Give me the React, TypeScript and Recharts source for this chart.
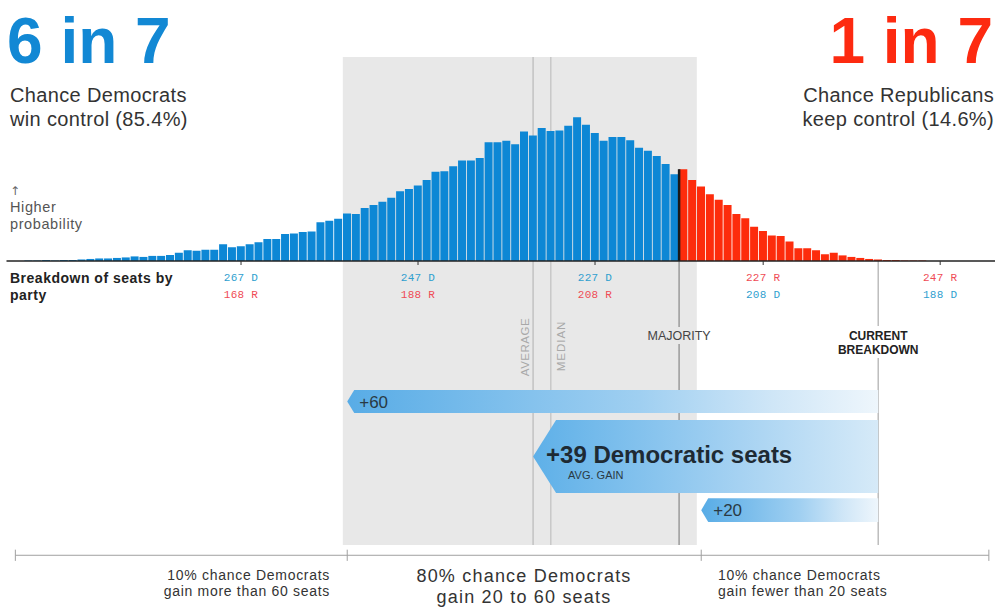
import React from 'react';
import { BarChart, Bar, XAxis, YAxis, Cell, ReferenceArea, ReferenceLine } from 'recharts';

// ---- data -----------------------------------------------------------
// Democratic seats won (x categories, left = more Democratic seats)
const seats = [
  293, 292, 291, 290, 289, 288, 287, 286, 285, 284,
  283, 282, 281, 280, 279, 278, 277, 276, 275, 274,
  273, 272, 271, 270, 269, 268, 267, 266, 265, 264,
  263, 262, 261, 260, 259, 258, 257, 256, 255, 254,
  253, 252, 251, 250, 249, 248, 247, 246, 245, 244,
  243, 242, 241, 240, 239, 238, 237, 236, 235, 234,
  233, 232, 231, 230, 229, 228, 227, 226, 225, 224,
  223, 222, 221, 220, 219, 218, 217, 216, 215, 214,
  213, 212, 211, 210, 209, 208, 207, 206, 205, 204,
  203, 202, 201, 200, 199, 198, 197, 196, 195, 194,
  193, 192, 191, 190, 189, 188, 187, 186, 185, 184,
  183, 182,
];
// probability (%) of each outcome
const probability = [
  0, 0, 0.01, 0.01, 0.02, 0.01, 0.02, 0.02, 0.03, 0.04,
  0.05, 0.05, 0.06, 0.07, 0.09, 0.08, 0.10, 0.10, 0.12, 0.16,
  0.21, 0.20, 0.22, 0.22, 0.33, 0.27, 0.29, 0.33, 0.37, 0.43,
  0.43, 0.53, 0.54, 0.57, 0.58, 0.76, 0.79, 0.83, 0.93, 0.92,
  1.04, 1.10, 1.16, 1.24, 1.37, 1.41, 1.48, 1.59, 1.75, 1.76,
  1.86, 1.97, 1.97, 2.02, 2.33, 2.33, 2.36, 2.29, 2.54, 2.46,
  2.61, 2.55, 2.56, 2.65, 2.82, 2.67, 2.51, 2.36, 2.43, 2.43,
  2.37, 2.22, 2.16, 2.06, 1.90, 1.70, 1.80, 1.59, 1.46, 1.31,
  1.20, 1.10, 0.92, 0.84, 0.67, 0.59, 0.50, 0.49, 0.38, 0.25,
  0.25, 0.21, 0.13, 0.16, 0.11, 0.08, 0.06, 0.04, 0.03, 0.02,
  0.02, 0.01, 0.01, 0.01, 0, 0, 0, 0, 0, 0,
  0, 0,
];
const tickSeats = [267, 247, 227, 208, 188];

const TOTAL_SEATS = 435;
const MAJORITY_SEATS = 218;
const CURRENT_DEM_SEATS = 195;
const AVERAGE_DEM_SEATS = 234;
const MEDIAN_DEM_SEATS = 232;
const GAIN_HIGH_SEATS = 255; // +60
const GAIN_LOW_SEATS = 215; // +20

const gainHighLabel = '+60';
const gainAvgLabel = '+39 Democratic seats';
const gainLowLabel = '+20';

// ---- layout / style ---------------------------------------------------
const BLUE = '#0d87d5';
const RED = '#fd2c0c';
const BLUE_TXT = '#2f9fcf';
const RED_TXT = '#ef4b55';
const SANS = "'Liberation Sans', Arial, sans-serif";
const MONO = "'Liberation Mono', 'DejaVu Sans Mono', monospace";

const CHART_W = 1000;
const CHART_H = 608;
const MARGIN = { top: 57, right: 2.3, bottom: 317, left: 6.5 };
const BAND = (CHART_W - MARGIN.left - MARGIN.right) / seats.length;

const Y_MAX = 4;
const Y_BOTTOM = -5.57; // bottom of shaded band
const Y_AXIS2 = -5.77; // bottom scale line
const ROW_HIGH: [number, number] = [-2.53, -2.98];
const ROW_AVG: [number, number] = [-3.12, -4.55];
const ROW_LOW: [number, number] = [-4.65, -5.12];

const data = seats.map((s, i) => ({ seat: s, prob: probability[i] }));
const barAtMajorityEdge = probability[seats.indexOf(MAJORITY_SEATS - 1)];

const SeatTick = (props: any) => {
  const { x, y, payload } = props;
  const d = payload.value as number;
  const r = TOTAL_SEATS - d;
  const dem = d >= MAJORITY_SEATS;
  const first = dem ? `${d} D` : `${r} R`;
  const second = dem ? `${r} R` : `${d} D`;
  const common = { x, textAnchor: 'middle' as const, fontSize: 11, fontFamily: MONO, letterSpacing: 0.3 };
  return (
    <g>
      <text {...common} y={y + 14} fill={dem ? BLUE_TXT : RED_TXT}>{first}</text>
      <text {...common} y={y + 31} fill={dem ? RED_TXT : BLUE_TXT}>{second}</text>
    </g>
  );
};

const GainArrow = (props: any) => {
  const { x, y, width, height, label, sub, big } = props;
  const x0 = x + BAND / 2;
  const x1 = x + width - BAND / 2;
  const depth = big ? 23 : 7;
  const pts = `${x0},${y + height / 2} ${x0 + depth},${y} ${x1},${y} ${x1},${y + height} ${x0 + depth},${y + height}`;
  return (
    <g>
      <polygon points={pts} fill={big ? 'url(#gainGradBig)' : 'url(#gainGrad)'} />
      {big ? (
        <>
          <text x={x0 + 13} y={y + 43} fontSize={24} fontWeight={700} fontFamily={SANS} fill="#1e2a33">{label}</text>
          <text x={x0 + 35} y={y + 59} fontSize={11} fontFamily={SANS} fill="#2a3a44">{sub}</text>
        </>
      ) : (
        <text x={x0 + 12} y={y + height / 2 + 6} fontSize={17} fontFamily={SANS} fill="#2a3a44">{label}</text>
      )}
    </g>
  );
};

const avgLabel = (p: any) => {
  const x = p.viewBox.x - 4;
  return (
    <text x={x} y={347} transform={`rotate(-90 ${x} 347)`} textAnchor="middle" fontSize={11.5} fontFamily={SANS} fill="#a8a8a8" letterSpacing={0.5}>AVERAGE</text>
  );
};
const medLabel = (p: any) => {
  const x = p.viewBox.x + 14;
  return (
    <text x={x} y={346} transform={`rotate(-90 ${x} 346)`} textAnchor="middle" fontSize={11.5} fontFamily={SANS} fill="#a8a8a8" letterSpacing={1}>MEDIAN</text>
  );
};
const majLabel = (p: any) => {
  const x = p.viewBox.x;
  return (
    <g>
      <rect x={x - 3} y={327} width={6} height={17} fill="#e8e8e8" />
      <text x={x} y={340} textAnchor="middle" fontSize={12.5} fontFamily={SANS} fill="#444">MAJORITY</text>
    </g>
  );
};
const curLabel = (p: any) => {
  const x = p.viewBox.x;
  return (
    <g>
      <rect x={x - 3} y={326} width={6} height={32} fill="#fff" />
      <text x={x} y={340} textAnchor="middle" fontSize={12} fontWeight={700} fontFamily={SANS} fill="#222">CURRENT</text>
      <text x={x} y={354} textAnchor="middle" fontSize={12} fontWeight={700} fontFamily={SANS} fill="#222">BREAKDOWN</text>
    </g>
  );
};

const Overlay = () => (
  <svg width={995} height={608} style={{ position: 'absolute', left: 0, top: 0, pointerEvents: 'none' }}>
    <text x={7} y={63} fontSize={64} fontWeight={700} fontFamily={SANS} fill="#1288d4">6 in 7</text>
    <text x={993} y={63} textAnchor="end" fontSize={64} fontWeight={700} fontFamily={SANS} fill="#fd2a10">1 in 7</text>
    <text x={10} y={102} fontSize={20} fontFamily={SANS} fill="#333" letterSpacing={0.35}>Chance Democrats</text>
    <text x={10} y={126} fontSize={20} fontFamily={SANS} fill="#333" letterSpacing={0.35}>win control (85.4%)</text>
    <text x={994} y={102} textAnchor="end" fontSize={20} fontFamily={SANS} fill="#333" letterSpacing={0.35}>Chance Republicans</text>
    <text x={994} y={126} textAnchor="end" fontSize={20} fontFamily={SANS} fill="#333" letterSpacing={0.35}>keep control (14.6%)</text>
    <text x={10} y={195} fontSize={12} fontFamily="'DejaVu Sans', sans-serif" fill="#666">↑</text>
    <text x={10} y={212} fontSize={14.5} fontFamily={SANS} fill="#555" letterSpacing={0.6}>Higher</text>
    <text x={10} y={229} fontSize={14.5} fontFamily={SANS} fill="#555" letterSpacing={0.6}>probability</text>
    <text x={10} y={283} fontSize={14} fontWeight={700} fontFamily={SANS} fill="#222" letterSpacing={0.5}>Breakdown of seats by</text>
    <text x={10} y={299.5} fontSize={14} fontWeight={700} fontFamily={SANS} fill="#222" letterSpacing={0.5}>party</text>
    <text x={330} y={580} textAnchor="end" fontSize={14} fontFamily={SANS} fill="#333" letterSpacing={0.7}>10% chance Democrats</text>
    <text x={330} y={596} textAnchor="end" fontSize={14} fontFamily={SANS} fill="#333" letterSpacing={0.7}>gain more than 60 seats</text>
    <text x={524} y={582} textAnchor="middle" fontSize={18} fontFamily={SANS} fill="#333" letterSpacing={1.2}>80% chance Democrats</text>
    <text x={524} y={602.5} textAnchor="middle" fontSize={18} fontFamily={SANS} fill="#333" letterSpacing={1.2}>gain 20 to 60 seats</text>
    <text x={718} y={580} fontSize={14} fontFamily={SANS} fill="#333" letterSpacing={0.7}>10% chance Democrats</text>
    <text x={718} y={596} fontSize={14} fontFamily={SANS} fill="#333" letterSpacing={0.7}>gain fewer than 20 seats</text>
  </svg>
);

export default function App() {
  return (
    <div style={{ position: 'absolute', left: 0, top: 0, width: 995, height: 608, overflow: 'hidden', background: '#fff' }}>
      <div style={{ position: 'absolute', left: 0, top: 0 }}>
        <BarChart width={CHART_W} height={CHART_H} data={data} margin={MARGIN} barCategoryGap={0.2}>
          <defs>
            <linearGradient id="gainGrad" x1="0" y1="0" x2="1" y2="0">
              <stop offset="0" stopColor="#58ace6" />
              <stop offset="0.55" stopColor="#9fcff1" />
              <stop offset="0.8" stopColor="#cfe6f7" />
              <stop offset="1" stopColor="#eef6fc" />
            </linearGradient>
            <linearGradient id="gainGradBig" x1="0" y1="0" x2="1" y2="0">
              <stop offset="0" stopColor="#5eb0e8" />
              <stop offset="0.6" stopColor="#a6d2f2" />
              <stop offset="1" stopColor="#d6eaf8" />
            </linearGradient>
          </defs>
          <XAxis
            dataKey="seat"
            ticks={tickSeats}
            interval={0}
            tickSize={4}
            tickLine={{ stroke: '#333' }}
            axisLine={{ stroke: '#222', strokeWidth: 1.5 }}
            tick={(p: any) => <SeatTick {...p} />}
            height={30}
          />
          <YAxis hide type="number" domain={[0, Y_MAX]} allowDataOverflow />
          <ReferenceArea
            x1={GAIN_HIGH_SEATS}
            x2={MAJORITY_SEATS - 2}
            y1={Y_BOTTOM}
            y2={Y_MAX}
            fill="#e8e8e8"
            fillOpacity={1}
            stroke="none"
            ifOverflow="visible"
            zIndex={5}
          />
          <ReferenceLine
            segment={[{ x: AVERAGE_DEM_SEATS, y: Y_MAX }, { x: AVERAGE_DEM_SEATS, y: Y_BOTTOM }]}
            stroke="#c2c2c2"
            strokeWidth={1.5}
            ifOverflow="visible"
            label={avgLabel}
            zIndex={20}
          />
          <ReferenceLine
            segment={[{ x: MEDIAN_DEM_SEATS, y: Y_MAX }, { x: MEDIAN_DEM_SEATS, y: Y_BOTTOM }]}
            stroke="#c8c8c8"
            strokeWidth={1.5}
            ifOverflow="visible"
            label={medLabel}
            zIndex={20}
          />
          <ReferenceLine
            segment={[{ x: MAJORITY_SEATS, y: 0 }, { x: MAJORITY_SEATS, y: Y_BOTTOM }]}
            position="end"
            stroke="#9a9a9a"
            strokeWidth={1.5}
            ifOverflow="visible"
            label={majLabel}
            zIndex={20}
          />
          <ReferenceLine
            segment={[{ x: CURRENT_DEM_SEATS, y: 0 }, { x: CURRENT_DEM_SEATS, y: Y_BOTTOM }]}
            stroke="#bdbdbd"
            strokeWidth={1.5}
            ifOverflow="visible"
            label={curLabel}
            zIndex={20}
          />
          <Bar dataKey="prob" isAnimationActive={false}>
            {data.map((d) => (
              <Cell key={d.seat} fill={d.seat >= MAJORITY_SEATS ? BLUE : RED} />
            ))}
          </Bar>
          <ReferenceLine
            segment={[{ x: MAJORITY_SEATS, y: 0 }, { x: MAJORITY_SEATS, y: barAtMajorityEdge }]}
            position="end"
            stroke="#1a1a1a"
            strokeWidth={2.5}
            ifOverflow="visible"
            zIndex={450}
          />
          <ReferenceArea
            x1={GAIN_HIGH_SEATS}
            x2={CURRENT_DEM_SEATS}
            y1={ROW_HIGH[0]}
            y2={ROW_HIGH[1]}
            ifOverflow="visible"
            zIndex={500}
            shape={(p: any) => <GainArrow {...p} label={gainHighLabel} />}
          />
          <ReferenceArea
            x1={AVERAGE_DEM_SEATS}
            x2={CURRENT_DEM_SEATS}
            y1={ROW_AVG[0]}
            y2={ROW_AVG[1]}
            ifOverflow="visible"
            zIndex={500}
            shape={(p: any) => <GainArrow {...p} big label={gainAvgLabel} sub="AVG. GAIN" />}
          />
          <ReferenceArea
            x1={GAIN_LOW_SEATS}
            x2={CURRENT_DEM_SEATS}
            y1={ROW_LOW[0]}
            y2={ROW_LOW[1]}
            ifOverflow="visible"
            zIndex={500}
            shape={(p: any) => <GainArrow {...p} label={gainLowLabel} />}
          />
          <ReferenceLine
            segment={[{ x: seats[1], y: Y_AXIS2 }, { x: seats[seats.length - 1], y: Y_AXIS2 }]}
            position="start"
            stroke="#a0a0a0"
            strokeWidth={1}
            ifOverflow="visible"
          />
          {[seats[1], GAIN_HIGH_SEATS, GAIN_LOW_SEATS, seats[seats.length - 1]].map((s, i) => (
            <ReferenceLine
              key={`t${i}`}
              segment={[{ x: s, y: Y_AXIS2 + 0.11 }, { x: s, y: Y_AXIS2 - 0.11 }]}
              position={i === 0 || i === 3 ? 'start' : 'middle'}
              stroke="#a0a0a0"
              strokeWidth={1}
              ifOverflow="visible"
            />
          ))}
        </BarChart>
      </div>
      <Overlay />
    </div>
  );
}
